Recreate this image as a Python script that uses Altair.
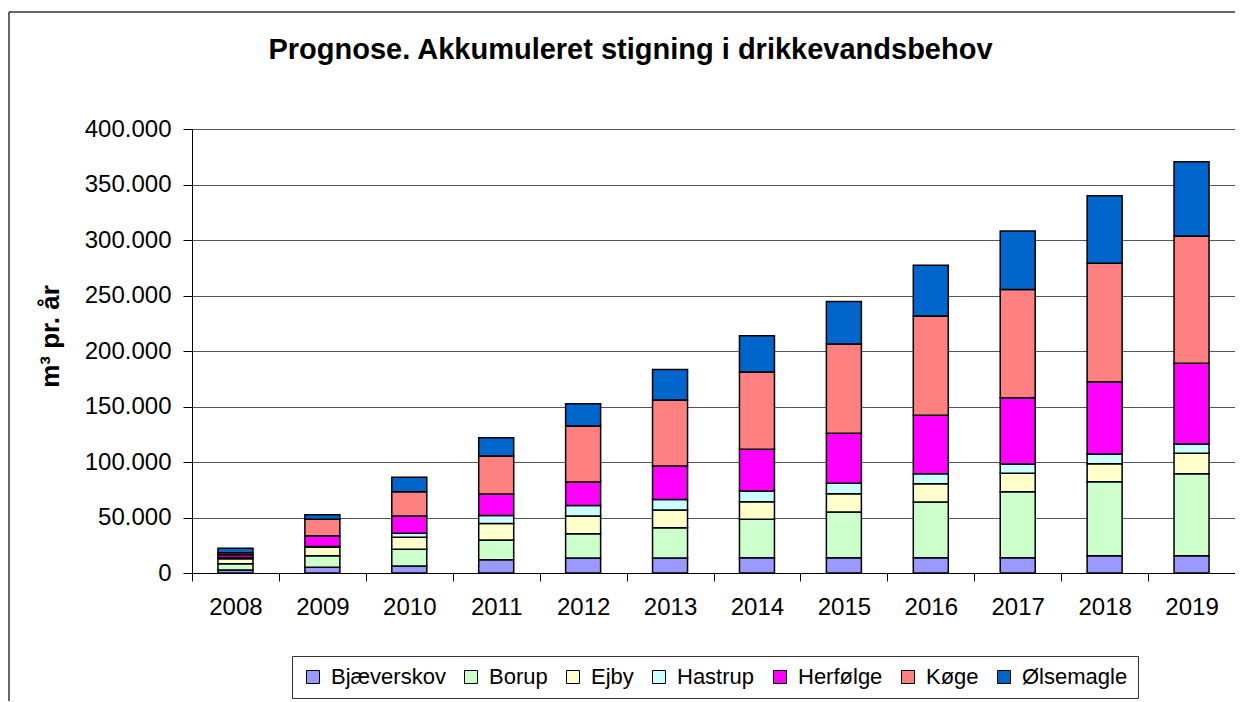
import altair as alt
import pandas as pd

years = [str(y) for y in range(2008, 2020)]
series = ["Bjæverskov", "Borup", "Ejby", "Hastrup", "Herfølge", "Køge", "Ølsemagle"]
colors = ["#9999FF", "#CCFFCC", "#FFFFCC", "#CCFFFF", "#FF00FF", "#FF8080", "#0066CC"]

bjaeverskov = [2800, 5100, 6300, 12000, 13500, 13500, 13800, 13800, 13800, 13800, 15600, 15600]
borup = [5500, 10400, 15000, 17700, 21900, 27300, 34600, 41200, 50200, 59500, 66700, 73900]
ejby = [4500, 7600, 10800, 15000, 15900, 15900, 15900, 16500, 16500, 16600, 16200, 18400]
hastrup = [1200, 800, 3600, 7200, 9600, 9600, 9600, 9400, 9000, 8400, 8700, 8400]
herfoelge = [2500, 9600, 15600, 19200, 21000, 30000, 37600, 45000, 52600, 59500, 65100, 72700]
koege = [1800, 15000, 21900, 34200, 50500, 59500, 69600, 80500, 89500, 97600, 106700, 114700]
oelsemagle = [4000, 3900, 13000, 16500, 20100, 27600, 32700, 38100, 45700, 52600, 60900, 66900]

series_values = [bjaeverskov, borup, ejby, hastrup, herfoelge, koege, oelsemagle]
y_ticks = list(range(0, 400001, 50000))

rows = []
for si, (name, vals) in enumerate(zip(series, series_values)):
    for yr, v in zip(years, vals):
        rows.append({"year": yr, "area": name, "value": v, "ord": si})
df = pd.DataFrame(rows)

FONT = "Liberation Sans"
W, H = 1043, 444

bars = alt.Chart(df).mark_bar(width=35, stroke="black", strokeWidth=1.5).encode(
    x=alt.X(
        "year:N",
        sort=years,
        scale=alt.Scale(paddingInner=0, paddingOuter=0),
        axis=alt.Axis(
            title=None, labelAngle=0, grid=False, tickBand="extent",
            tickSize=8, tickColor="black", domainColor="black",
            labelFont=FONT, labelFontSize=24, labelColor="black", labelPadding=14,
        ),
    ),
    y=alt.Y(
        "value:Q",
        stack="zero",
        scale=alt.Scale(domain=[0, 400000], nice=False),
        axis=alt.Axis(
            values=y_ticks,
            labelExpr="datum.value == 0 ? '0' : format(datum.value / 1000, 'd') + '.000'",
            grid=True, gridColor="#555555", gridWidth=1,
            tickSize=9, tickColor="black", domainColor="black",
            labelFont=FONT, labelFontSize=24, labelColor="black", labelPadding=12,
            title="m³ pr. år", titleFont=FONT, titleFontSize=26, titleFontWeight="bold",
            titleColor="black", titleX=-134, titleY=207, titleAngle=270,
            titleAlign="center", titleBaseline="alphabetic",
        ),
    ),
    color=alt.Color(
        "area:N",
        scale=alt.Scale(domain=series, range=colors),
        legend=alt.Legend(
            title=None, orient="none", legendX=100, legendY=527,
            direction="horizontal", strokeColor="#333333", fillColor="white",
            padding=10, symbolType="square", symbolSize=169,
            symbolStrokeColor="black", symbolStrokeWidth=1, symbolOpacity=1,
            labelFont=FONT, labelFontSize=22, labelColor="black",
            labelOffset=7, columnPadding=14,
        ),
    ),
    order=alt.Order("ord:Q", sort="ascending"),
)

frame_left = alt.Chart(alt.Data(values=[{"k": 1}])).mark_rule(
    color="#333333", strokeWidth=1.5
).encode(x=alt.value(-183), y=alt.value(-117), y2=alt.value(H + 300))

frame_top = alt.Chart(alt.Data(values=[{"k": 1}])).mark_rule(
    color="#333333", strokeWidth=1.5
).encode(x=alt.value(-183), x2=alt.value(W + 100), y=alt.value(-117))

chart = alt.layer(frame_left, frame_top, bars).properties(
    width=W,
    height=H,
    title=alt.TitleParams(
        text="Prognose. Akkumuleret stigning i drikkevandsbehov",
        font=FONT, fontSize=29, fontWeight="bold", color="black",
        anchor="middle", dx=-83, dy=77, offset=0, baseline="alphabetic",
    ),
    autosize=alt.AutoSizeParams(type="none"),
    padding={"left": 184, "top": 121, "right": 0, "bottom": 128},
).configure_view(strokeWidth=0)

chart.save("out.html", embed_options={"renderer": "svg", "actions": False})
